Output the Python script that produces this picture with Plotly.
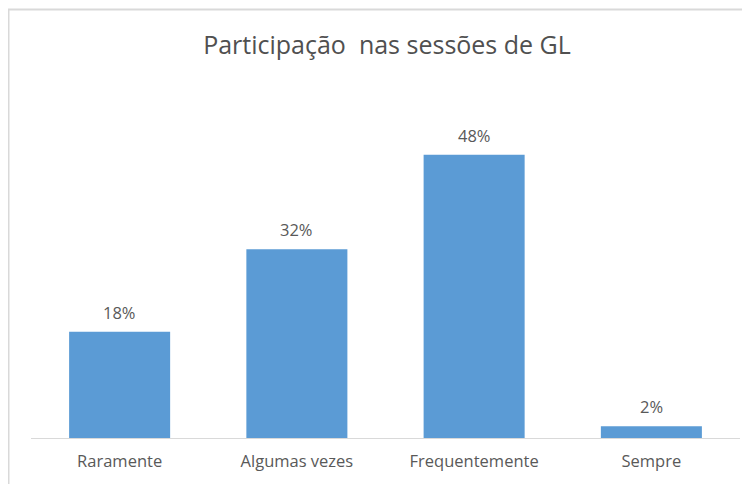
import plotly.graph_objects as go

categories = ["Raramente", "Algumas vezes", "Frequentemente", "Sempre"]
values = [18, 32, 48, 2]
labels = ["18%", "32%", "48%", "2%"]

W, H = 750, 484
L, R, T, B = 23, 18, 135, 54
pw = W - L - R
ph = H - T - B

fig = go.Figure()
fig.add_trace(go.Bar(
    x=categories, y=values,
    marker=dict(color="#5B9BD5", line=dict(width=0)),
    hoverinfo="skip",
))

for c, v, t in zip(categories, values, labels):
    fig.add_annotation(
        x=c, y=v, text=t, showarrow=False, yanchor="bottom",
        yshift=6, font=dict(family="Open Sans", size=16.5, color="#595959"),
    )

fig.add_shape(
    type="rect", xref="paper", yref="paper",
    x0=(0.5 - L) / pw, x1=(W + 20 - L) / pw,
    y0=(H - B - (H + 20)) / ph, y1=(H - B - 1.5) / ph,
    line=dict(color="#D9D9D9", width=2), fillcolor="rgba(0,0,0,0)", layer="below",
)

fig.update_layout(
    width=W, height=H,
    margin=dict(l=L, r=R, t=T, b=B),
    paper_bgcolor="white", plot_bgcolor="white",
    bargap=0.43,
    showlegend=False,
    title=dict(
        text="Participação  nas sessões de GL",
        x=379 / W, xanchor="center", y=1 - 37 / H, yanchor="middle",
        font=dict(family="Open Sans", size=25, color="#505050"),
    ),
    xaxis=dict(
        showline=True, linecolor="#D9D9D9", linewidth=1,
        ticks="", showgrid=False, ticklabelstandoff=8,
        tickfont=dict(family="Open Sans", size=16.5, color="#595959"),
    ),
    yaxis=dict(
        range=[0, 50], visible=False, showgrid=False, zeroline=False,
    ),
)

fig.write_html("out.html")
